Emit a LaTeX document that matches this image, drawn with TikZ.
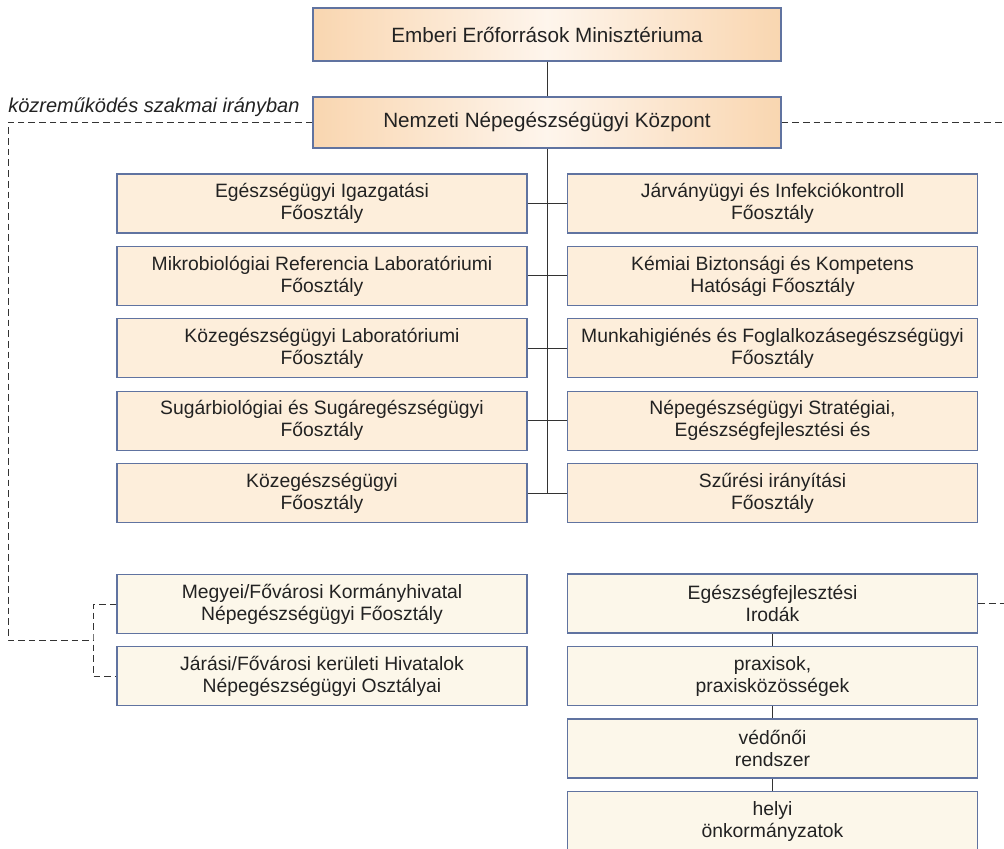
\documentclass[tikz,border=0pt]{standalone}
\usepackage{fontspec}
\setmainfont{Liberation Sans}
\definecolor{EMorange}{HTML}{F9D6B0}
\definecolor{EMlight}{HTML}{FEF5EC}
\definecolor{NNKpeach}{HTML}{FDEEDB}
\definecolor{NNKcream}{HTML}{FCF7EA}
\definecolor{NNKframe}{HTML}{6073A0}
\definecolor{NNKtext}{HTML}{222222}
\usetikzlibrary{calc}

\begin{document}
\begin{tikzpicture}[x=0.75pt,y=-0.75pt,
  every node/.style={font=\fontsize{14.5}{16.5}\selectfont,text=NNKtext},
  unit/.style={draw=NNKframe,line width=1pt,inner sep=0pt,align=center,
    minimum width=307.5pt,minimum height=44.25pt},
  topbox/.style={unit,minimum width=351pt,minimum height=39.75pt,
    left color=EMorange,right color=EMorange,middle color=EMlight,
    font=\fontsize{15.5}{18}\selectfont},
  dept/.style={unit,fill=NNKpeach},
  local/.style={unit,fill=NNKcream},
  link/.style={line width=0.75pt,draw=black!80},
  coop/.style={link,dash pattern=on 5pt off 3pt}]
  \useasboundingbox (0,0) rectangle (1004,849);
  \clip (0,0) rectangle (1004,849);

  \node[topbox] (emmi) at (547,34.5) {Emberi Erőforrások Minisztériuma};
  \node[topbox,minimum height=38.25pt] (nnk) at (547,122.5) {Nemzeti Népegészségügyi Központ};
  \node[anchor=base west,inner sep=0pt,font=\itshape\fontsize{15}{18}\selectfont]
    (coopnote) at (8,113) {közreműködés szakmai irányban};
  \draw[link] (emmi) -- (nnk);

  \foreach \i/\txt in {1/{Egészségügyi Igazgatási\\Főosztály},
      2/{Mikrobiológiai Referencia Laboratóriumi\\Főosztály},
      3/{Közegészségügyi Laboratóriumi\\Főosztály},
      4/{Sugárbiológiai és Sugáregészségügyi\\Főosztály},
      5/{Közegészségügyi\\Főosztály}}
    \node[dept] (l\i) at (322,{203.5+72.4*(\i-1)}) {\txt};
  \foreach \i/\txt in {1/{Járványügyi és Infekciókontroll\\Főosztály},
      2/{Kémiai Biztonsági és Kompetens\\Hatósági Főosztály},
      3/{Munkahigiénés és Foglalkozásegészségügyi\\Főosztály},
      4/{Népegészségügyi Stratégiai,\\Egészségfejlesztési és},
      5/{Szűrési irányítási\\Főosztály}}
    \node[dept] (r\i) at (772.5,{203.5+72.4*(\i-1)}) {\txt};

  \draw[link] (nnk.south) -- (nnk.south |- l5.east);
  \foreach \i in {1,...,5}
    \draw[link] (l\i.east) -- (r\i.west);

  \node[local] (megye) at (322,604) {Megyei/Fővárosi Kormányhivatal\\Népegészségügyi Főosztály};
  \node[local] (jaras) at (322,676) {Járási/Fővárosi kerületi Hivatalok\\Népegészségügyi Osztályai};
  \node[local] (iroda) at (772.5,603.5) {Egészségfejlesztési\\Irodák};
  \node[local] (praxis) at (772.5,676) {praxisok,\\praxisközösségek};
  \node[local] (vedono) at (772.5,748.5) {védőnői\\rendszer};
  \node[local] (onkorm) at (772.5,821) {helyi\\önkormányzatok};
  \draw[link] (iroda) -- (praxis) -- (vedono) -- (onkorm);

  \coordinate (railbend) at (8,640);
  \coordinate (fork) at (93,640);
  \coordinate (railend) at (1004,0);
  \draw[coop] (nnk.west) -| (railbend) -- (fork);
  \draw[coop] (megye.west) -| (fork) |- (jaras.west);
  \draw[coop] (nnk.east) -- (nnk.east -| railend);
  \draw[coop] (iroda.east) -- (iroda.east -| railend);
\end{tikzpicture}
\end{document}
